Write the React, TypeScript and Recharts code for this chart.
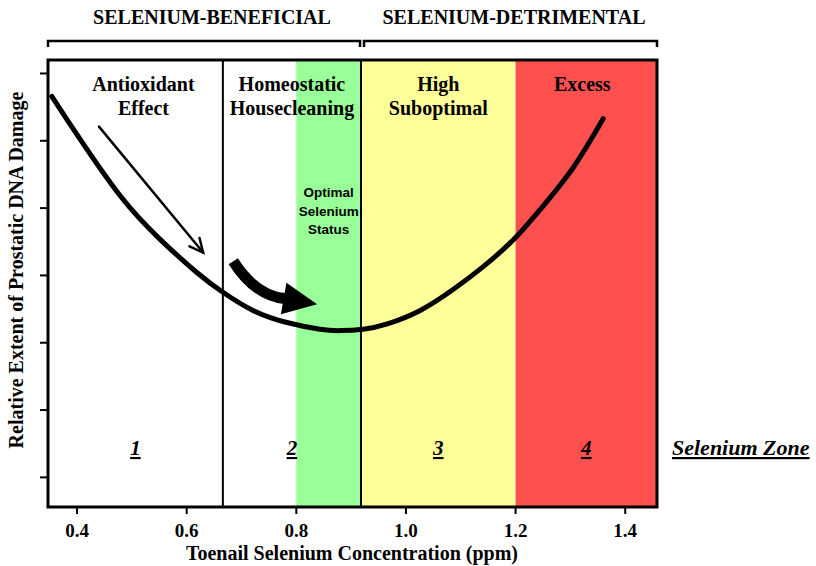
import React from 'react';
import { LineChart, Line, XAxis, YAxis, ReferenceArea, ReferenceLine } from 'recharts';

// curve
const seleniumPpm = [0.354, 0.4, 0.478, 0.551, 0.619, 0.666, 0.721, 0.783, 0.843, 0.88, 0.922, 0.966, 1.026, 1.086, 1.141, 1.196, 1.245, 1.305, 1.36];
const dnaDamage = [5.66, 5.09, 4.19, 3.54, 3.04, 2.75, 2.48, 2.3, 2.2, 2.18, 2.2, 2.28, 2.48, 2.79, 3.13, 3.53, 3.98, 4.6, 5.33];

const xTicks = [0.4, 0.6, 0.8, 1.0, 1.2, 1.4];
const yTicks = [0, 1, 2, 3, 4, 5, 6];
const xDomain = [0.347, 1.458];
const yDomain = [-0.44, 6.2];

const zoneBounds = [0.347, 0.666, 0.918, 1.2, 1.458];
const zoneTitles = [['Antioxidant', 'Effect'], ['Homeostatic', 'Housecleaning'], ['High', 'Suboptimal'], ['Excess']];
const zoneNumbers = ['1', '2', '3', '4'];
const zoneFills = ['none', 'none', '#FFFF99', '#FF5050'];
const optimalBand = [0.8, 0.918];
const optimalLines = ['Optimal', 'Selenium', 'Status'];
const dividers = [0.666, 0.918];

const thinArrow = [{ x: 0.44, y: 5.21 }, { x: 0.63, y: 3.34 }];
const thickArrow = [{ x: 0.685, y: 3.21 }, { x: 0.838, y: 2.57 }];

const serif = '"Liberation Serif", "Times New Roman", serif';
const sans = '"Liberation Sans", Arial, sans-serif';

const data = seleniumPpm.map((x, i) => ({ x, y: dnaDamage[i] }));

// titles sit slightly off-centre in the first and last zones
const titleShift = [8, 0, 0, -4];

const zoneLabel = (title: string[], num: string, shift: number) => (props: any) => {
    const { x, y, width, height } = props.viewBox;
    const cx = x + width / 2;
    return (
        <g>
            {title.map((t, i) => (
                <text key={i} x={cx + shift} y={y + 31 + i * 24} textAnchor="middle" fontFamily={serif} fontWeight="bold" fontSize={20} fill="#000">
                    {t}
                </text>
            ))}
            <text x={cx} y={y + height - 52} textAnchor="middle" fontFamily={serif} fontWeight="bold" fontStyle="italic" fontSize={21} fill="#000" style={{ textDecoration: 'underline' }}>
                {num}
            </text>
        </g>
    );
};

const optimalLabel = (props: any) => {
    const { x, y, width } = props.viewBox;
    const cx = x + width / 2;
    return (
        <g>
            {optimalLines.map((t, i) => (
                <text key={i} x={cx} y={y + 137 + i * 18.5} textAnchor="middle" fontFamily={sans} fontWeight="bold" fontSize={13.5} fill="#000">
                    {t}
                </text>
            ))}
        </g>
    );
};

const ThinArrowShape = (props: any) => {
    const { x1, y1, x2, y2 } = props;
    const a = Math.atan2(y2 - y1, x2 - x1);
    const len = 15;
    const w1 = { x: x2 - len * Math.cos(a - 0.45), y: y2 - len * Math.sin(a - 0.45) };
    const w2 = { x: x2 - len * Math.cos(a + 0.45), y: y2 - len * Math.sin(a + 0.45) };
    return (
        <g stroke="#000" strokeWidth={2.5} fill="none" strokeLinecap="round">
            <line x1={x1} y1={y1} x2={x2} y2={y2} />
            <polyline points={`${w1.x},${w1.y} ${x2},${y2} ${w2.x},${w2.y}`} />
        </g>
    );
};

const ThickArrowShape = (props: any) => {
    const { x1, y1, x2, y2 } = props;
    // head points a little flatter than the chord
    const chord = Math.atan2(y2 - y1, x2 - x1);
    const a = chord - 0.3;
    const headLen = 34;
    const half = 16;
    const bx = x2 - headLen * Math.cos(a);
    const by = y2 - headLen * Math.sin(a);
    const px = -Math.sin(a);
    const py = Math.cos(a);
    const cx = x1 + (bx - x1) * 0.55 - 6;
    const cy = y1 + (by - y1) * 0.55 + 14;
    return (
        <g>
            <path d={`M${x1},${y1} Q${cx},${cy} ${bx + Math.cos(a) * 2},${by + Math.sin(a) * 2}`} stroke="#000" strokeWidth={11} fill="none" />
            <polygon points={`${x2},${y2} ${bx + px * half},${by + py * half} ${bx - px * half},${by - py * half}`} fill="#000" />
        </g>
    );
};

const NoLabel = () => <g />;

export default function App() {
    return (
        <div style={{ position: 'absolute', left: 0, top: 0, width: 816, height: 566, background: '#fff' }}>
            <LineChart width={816} height={566} data={data} margin={{ top: 60, right: 159, bottom: 0, left: 0 }}>
                <XAxis
                    dataKey="x"
                    type="number"
                    domain={xDomain}
                    ticks={xTicks}
                    allowDataOverflow
                    tickFormatter={(v: number) => v.toFixed(1)}
                    height={59}
                    axisLine={false}
                    tickSize={7}
                    tickMargin={10}
                    tickLine={{ stroke: '#000', strokeWidth: 2 }}
                    tick={{ fill: '#000', fontSize: 19, fontWeight: 'bold', fontFamily: serif }}
                />
                <YAxis
                    type="number"
                    domain={yDomain}
                    ticks={yTicks}
                    allowDataOverflow
                    width={48}
                    axisLine={false}
                    tick={NoLabel}
                    tickSize={8}
                    tickLine={{ stroke: '#000', strokeWidth: 2 }}
                />
                {zoneFills.map((f, i) =>
                    f === 'none' ? null : (
                        <ReferenceArea key={'f' + i} x1={zoneBounds[i]} x2={zoneBounds[i + 1]} y1={yDomain[0]} y2={yDomain[1]} fill={f} fillOpacity={1} stroke="none" />
                    )
                )}
                <ReferenceArea x1={optimalBand[0]} x2={optimalBand[1]} y1={yDomain[0]} y2={yDomain[1]} fill="#99FF99" fillOpacity={1} stroke="none" label={optimalLabel} />
                {zoneTitles.map((t, i) => (
                    <ReferenceArea key={'z' + i} x1={zoneBounds[i]} x2={zoneBounds[i + 1]} y1={yDomain[0]} y2={yDomain[1]} fill="none" stroke="none" label={zoneLabel(t, zoneNumbers[i], titleShift[i])} />
                ))}
                {dividers.map((d) => (
                    <ReferenceLine key={d} x={d} stroke="#000" strokeWidth={2} />
                ))}
                <ReferenceLine segment={thinArrow} shape={ThinArrowShape} />
                <ReferenceLine segment={thickArrow} shape={ThickArrowShape} />
                <Line
                    dataKey="y"
                    type="natural"
                    stroke="#000"
                    strokeWidth={5}
                    strokeLinecap="round"
                    dot={false}
                    activeDot={false}
                    isAnimationActive={false}
                />
                <ReferenceArea x1={xDomain[0]} x2={xDomain[1]} y1={yDomain[0]} y2={yDomain[1]} fill="none" stroke="#000" strokeWidth={3} ifOverflow="visible" />
            </LineChart>
            <svg width={816} height={566} style={{ position: 'absolute', left: 0, top: 0, pointerEvents: 'none' }}>
                <g fontFamily={serif} fontWeight="bold" fill="#000">
                    <text x={212} y={24} fontSize={20} textAnchor="middle">SELENIUM-BENEFICIAL</text>
                    <text x={514} y={24} fontSize={20} textAnchor="middle">SELENIUM-DETRIMENTAL</text>
                    <text x={352} y={560} fontSize={20} textAnchor="middle">Toenail Selenium Concentration (ppm)</text>
                    <text x={23} y={270} fontSize={20} textAnchor="middle" transform="rotate(-90 23 270)">Relative Extent of Prostatic DNA Damage</text>
                    <text x={672} y={455} fontSize={22} fontStyle="italic" style={{ textDecoration: 'underline' }}>Selenium Zone</text>
                </g>
                <g stroke="#000" strokeWidth={2.5} fill="none">
                    <polyline points="48,47 48,41 360,41 360,47" />
                    <polyline points="364,47 364,41 657,41 657,47" />
                </g>
            </svg>
        </div>
    );
}
